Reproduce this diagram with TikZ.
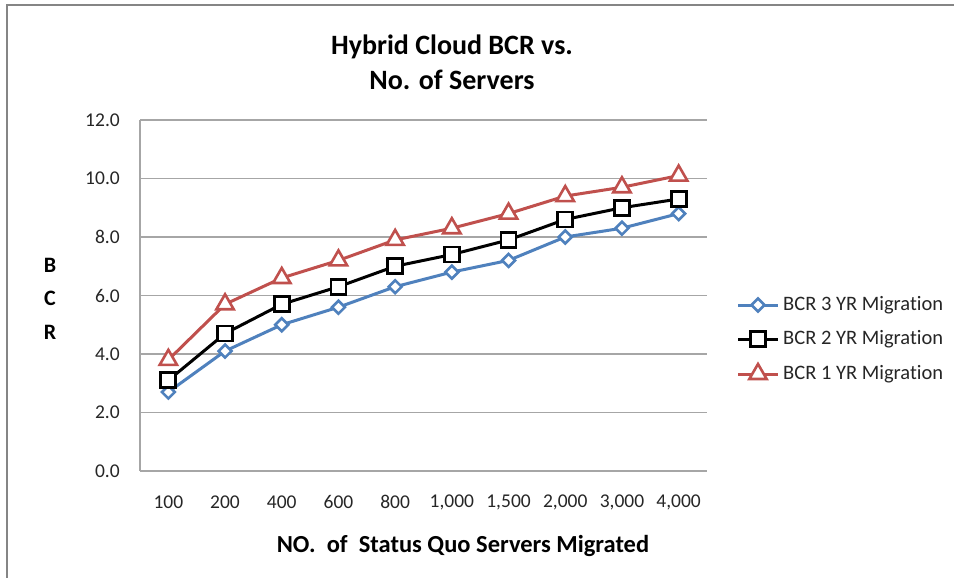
\documentclass[tikz,border=0pt]{standalone}
\usepackage{fontspec}
\setmainfont{Carlito}[Ligatures=NoCommon]
\usetikzlibrary{shapes.geometric}
\definecolor{sblue}{HTML}{4F81BD}
\definecolor{sred}{HTML}{C0504D}
\definecolor{gridc}{HTML}{A6A6A6}
\definecolor{framec}{HTML}{858585}
\definecolor{textc}{HTML}{262626}
\begin{document}
\begin{tikzpicture}[x=1pt,y=-1pt,
  gridline/.style={gridc,line width=1.2pt},
  blueline/.style={sblue,line width=3pt,line join=round},
  blackline/.style={black,line width=3pt,line join=round},
  redline/.style={sred,line width=3pt,line join=round},
  bmark/.style={diamond,draw=sblue,fill=white,line width=2.6pt,minimum width=14pt,minimum height=14pt,inner sep=0pt},
  kmark/.style={rectangle,draw=black,fill=white,line width=2.8pt,minimum size=15pt,inner sep=0pt},
  rmark/.style={regular polygon,regular polygon sides=3,draw=sred,fill=white,line width=2.6pt,minimum size=20pt,inner sep=0pt},
  ticklab/.style={font=\fontsize{19.5}{22}\selectfont,text=textc,inner sep=0pt},
  leglab/.style={font=\fontsize{20.5}{24}\selectfont,text=textc,inner sep=0pt,anchor=west},
  boldlab/.style={font=\fontsize{24.5}{28}\selectfont\bfseries,text=black,inner sep=0pt},
  bcrlab/.style={font=\fontsize{22}{26}\selectfont\bfseries,text=black,inner sep=0pt},
]
\useasboundingbox (0,0) rectangle (954,578);
\fill[white] (0,0) rectangle (954,578);
% outer frame
\draw[framec,line width=2pt] (7,578) -- (7,5) -- (954,5);
% title
\node[font=\fontsize{28}{35}\selectfont\bfseries,align=center,inner sep=0pt] (title) at (452,62) {Hybrid Cloud BCR vs.\\No. of Servers};
% grid and y labels
\foreach \v/\lab in {0/0.0,2/2.0,4/4.0,6/6.0,8/8.0,10/10.0,12/12.0}{
  \draw[gridline] (140,{471-29.25*\v}) -- (707,{471-29.25*\v});
  \node[ticklab,anchor=east] (y\v) at (120,{471-29.25*\v}) {\lab};
}
\draw[gridline] (140,120) -- (140,471);
% x labels
\foreach \lab [count=\i] in {100,200,400,600,800,{1,000},{1,500},{2,000},{3,000},{4,000}}{
  \node[ticklab] (x\i) at ({140+56.7*(\i-0.5)},502) {\lab};
}
% axis titles
\node[boldlab] (xt) at (463,546) {NO.\ \ of\ \ Status Quo Servers Migrated};
\node[bcrlab] (yb) at (50,265) {B};
\node[bcrlab] (yc) at (50,298) {C};
\node[bcrlab] (yr) at (50,332) {R};
% data coordinates
\foreach \v [count=\i] in {2.7,4.1,5.0,5.6,6.3,6.8,7.2,8.0,8.3,8.8}
  \coordinate (b\i) at ({140+56.7*(\i-0.5)},{471-29.25*\v});
\foreach \v [count=\i] in {3.1,4.7,5.7,6.3,7.0,7.4,7.9,8.6,9.0,9.3}
  \coordinate (k\i) at ({140+56.7*(\i-0.5)},{471-29.25*\v});
\foreach \v [count=\i] in {3.8,5.7,6.6,7.2,7.9,8.3,8.8,9.4,9.7,10.1}
  \coordinate (r\i) at ({140+56.7*(\i-0.5)},{471-29.25*\v});
% series
\draw[blueline] (b1) \foreach \i in {2,...,10}{ -- (b\i)};
\foreach \i in {1,...,10} \node[bmark] (bm\i) at (b\i) {};
\draw[blackline] (k1) \foreach \i in {2,...,10}{ -- (k\i)};
\foreach \i in {1,...,10} \node[kmark] (km\i) at (k\i) {};
\draw[redline] (r1) \foreach \i in {2,...,10}{ -- (r\i)};
\foreach \i in {1,...,10} \node[rmark] (rm\i) at (r\i) {};
% legend
\coordinate (l1a) at (738,305); \coordinate (l1b) at (778,305);
\coordinate (l2a) at (738,339); \coordinate (l2b) at (778,339);
\coordinate (l3a) at (738,374); \coordinate (l3b) at (778,374);
\draw[blueline] (l1a) -- (l1b);
\node[bmark] (lm1) at (758,305) {};
\node[leglab] (lt1) at (783,305) {BCR 3 YR Migration};
\draw[blackline] (l2a) -- (l2b);
\node[kmark] (lm2) at (758,339) {};
\node[leglab] (lt2) at (783,339) {BCR 2 YR Migration};
\draw[redline] (l3a) -- (l3b);
\node[rmark] (lm3) at (758,374) {};
\node[leglab] (lt3) at (783,374) {BCR 1 YR Migration};
\end{tikzpicture}
\end{document}
